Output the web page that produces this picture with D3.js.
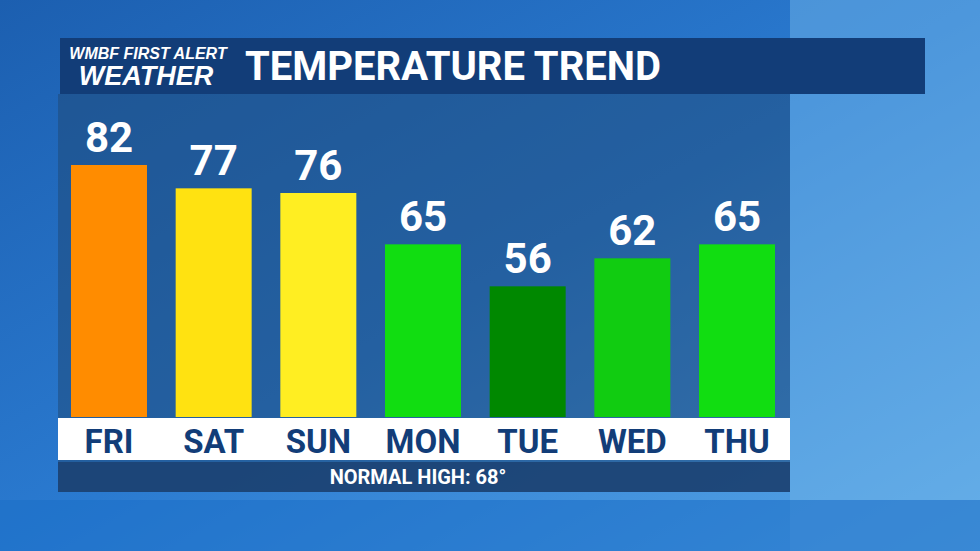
<!DOCTYPE html>
<html><head><meta charset="utf-8">
<script src="https://cdn.jsdelivr.net/npm/d3@7"></script>
<style>body{margin:0;overflow:hidden}svg{display:block}</style></head>
<body><svg id="c" width="980" height="551"></svg>
<script>
const days = ["FRI","SAT","SUN","MON","TUE","WED","THU"];
const temps = [82,77,76,65,56,62,65];
const colors = ["#ff8c00","#ffe211","#ffee22","#11dd11","#008800","#11cc11","#11dd11"];
const title = "TEMPERATURE TREND";
const footer = "NORMAL HIGH: 68°";

const svg = d3.select("#c");
const defs = svg.append("defs");
const bg = defs.append("linearGradient").attr("id","bg").attr("x1",0).attr("y1",0).attr("x2",1).attr("y2",1);
bg.append("stop").attr("offset",0).attr("stop-color","#1c5fb0");
bg.append("stop").attr("offset",0.5).attr("stop-color","#2a7ad0");
bg.append("stop").attr("offset",1).attr("stop-color","#5aa8e8");
svg.append("rect").attr("width",980).attr("height",551).attr("fill","url(#bg)");
svg.append("rect").attr("x",790).attr("y",0).attr("width",190).attr("height",551).attr("fill","#6fb3e8").attr("opacity",0.5);
svg.append("rect").attr("x",0).attr("y",500).attr("width",980).attr("height",51).attr("fill","#1d6fc8").attr("opacity",0.6);

svg.append("rect").attr("x",58).attr("y",94).attr("width",732).attr("height",398).attr("fill","#1f4a7a").attr("opacity",0.55);
svg.append("rect").attr("x",60).attr("y",38).attr("width",865).attr("height",56).attr("fill","#123d78");
svg.append("text").attr("x",148).attr("y",59).attr("text-anchor","middle").attr("fill","#fff")
  .attr("font-family","Liberation Sans").attr("font-style","italic").attr("font-weight","bold").attr("font-size",16).text("WMBF FIRST ALERT");
svg.append("text").attr("x",146).attr("y",85).attr("text-anchor","middle").attr("fill","#fff")
  .attr("font-family","Liberation Sans").attr("font-style","italic").attr("font-weight","bold").attr("font-size",27).text("WEATHER");
svg.append("text").attr("x",245).attr("y",80).attr("fill","#fff")
  .attr("font-family","Roboto").attr("font-weight","bold").attr("font-size",40).text(title);

const x = d3.scaleBand().domain(days).range([71,775]).paddingInner(0.274).paddingOuter(0);
const y = d3.scaleLinear().domain([28,82]).range([417,165]);

svg.selectAll(".bar").data(days).join("rect").attr("class","bar")
  .attr("x",d=>x(d)).attr("width",x.bandwidth())
  .attr("y",(d,i)=>y(temps[i])).attr("height",(d,i)=>417-y(temps[i]))
  .attr("fill",(d,i)=>colors[i]);
svg.selectAll(".val").data(days).join("text").attr("class","val")
  .attr("x",d=>x(d)+x.bandwidth()/2).attr("y",(d,i)=>y(temps[i])-13)
  .attr("text-anchor","middle").attr("fill","#fff").attr("font-family","Roboto").attr("font-weight","bold")
  .attr("font-size",42).text((d,i)=>temps[i]);

svg.append("rect").attr("x",58).attr("y",418).attr("width",732).attr("height",42).attr("fill","#fff");
svg.selectAll(".day").data(days).join("text").attr("class","day")
  .attr("x",d=>x(d)+x.bandwidth()/2).attr("y",453).attr("text-anchor","middle")
  .attr("fill","#123d78").attr("font-family","Roboto").attr("font-weight","bold")
  .attr("font-size",33).text(d=>d);
svg.append("rect").attr("x",58).attr("y",462).attr("width",732).attr("height",30).attr("fill","#1a3f6e").attr("opacity",0.8);
svg.append("text").attr("x",418).attr("y",484).attr("text-anchor","middle").attr("fill","#fff")
  .attr("font-family","Roboto").attr("font-weight","bold").attr("font-size",20).text(footer);
</script></body></html>
